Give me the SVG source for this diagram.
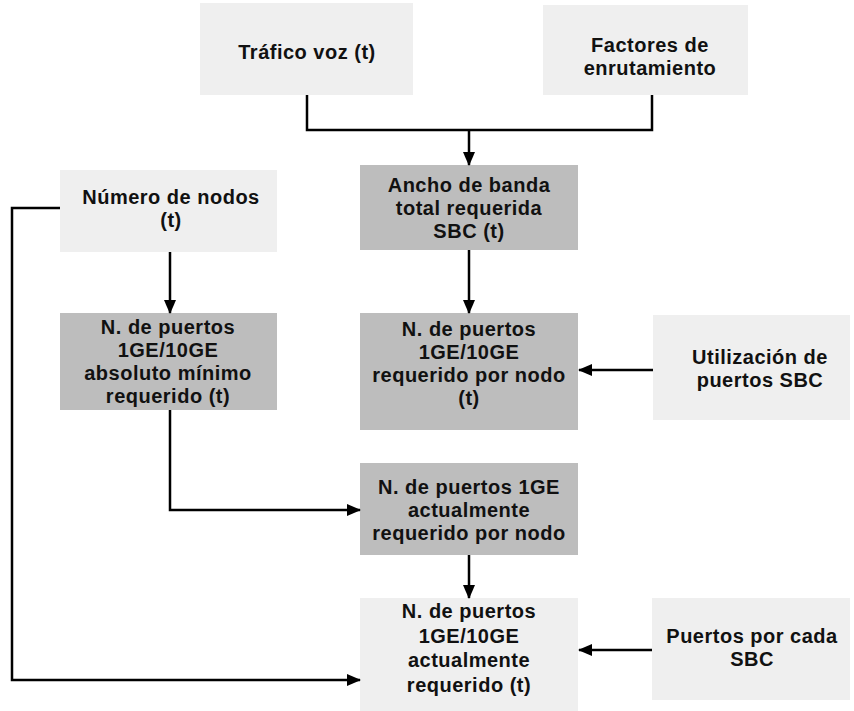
<svg xmlns="http://www.w3.org/2000/svg" width="854" height="711" viewBox="0 0 854 711">
<defs>
<style>
.t{font-family:"Liberation Sans",Arial,sans-serif;font-weight:bold;font-size:20px;letter-spacing:0.5px;fill:#111;text-anchor:middle}
.light{fill:#efefef}
.dark{fill:#bdbdbd}
.c{fill:none;stroke:#000;stroke-width:2.5}
</style>
<marker id="ah" viewBox="0 0 14 12" refX="13" refY="6" markerWidth="14" markerHeight="12" markerUnits="userSpaceOnUse" orient="auto">
<path d="M0,0 L14,6 L0,12 z" fill="#000"/>
</marker>
</defs>
<rect width="854" height="711" fill="#fff"/>
<g id="trafico">
<rect class="light" x="200" y="3" width="213" height="92"/>
<text class="t" x="307" y="59">Tráfico voz (t)</text>
</g>
<g id="factores">
<rect class="light" x="543" y="5" width="205" height="90"/>
<text class="t" x="650" y="52">Factores de</text>
<text class="t" x="650" y="75">enrutamiento</text>
</g>
<g id="ancho">
<rect class="dark" x="360" y="165" width="218" height="85"/>
<text class="t" x="469" y="192">Ancho de banda</text>
<text class="t" x="469" y="215">total requerida</text>
<text class="t" x="469" y="238">SBC (t)</text>
</g>
<g id="numero">
<rect class="light" x="60" y="170" width="217" height="82"/>
<text class="t" x="171" y="204">Número de nodos</text>
<text class="t" x="171" y="227">(t)</text>
</g>
<g id="absmin">
<rect class="dark" x="60" y="313" width="217" height="97"/>
<text class="t" x="168" y="334">N. de puertos</text>
<text class="t" x="168" y="357">1GE/10GE</text>
<text class="t" x="168" y="380">absoluto mínimo</text>
<text class="t" x="168" y="403">requerido (t)</text>
</g>
<g id="reqnodo">
<rect class="dark" x="360" y="313" width="218" height="117"/>
<text class="t" x="469" y="336">N. de puertos</text>
<text class="t" x="469" y="359">1GE/10GE</text>
<text class="t" x="469" y="382">requerido por nodo</text>
<text class="t" x="469" y="405">(t)</text>
</g>
<g id="utilizacion">
<rect class="light" x="653" y="315" width="197" height="105"/>
<text class="t" x="760" y="364">Utilización de</text>
<text class="t" x="760" y="387">puertos SBC</text>
</g>
<g id="actnodo">
<rect class="dark" x="360" y="463" width="218" height="92"/>
<text class="t" x="469" y="494">N. de puertos 1GE</text>
<text class="t" x="469" y="517">actualmente</text>
<text class="t" x="469" y="540">requerido por nodo</text>
</g>
<g id="final">
<rect class="light" x="360" y="598" width="218" height="113"/>
<text class="t" x="469" y="618">N. de puertos</text>
<text class="t" x="469" y="643">1GE/10GE</text>
<text class="t" x="469" y="667">actualmente</text>
<text class="t" x="469" y="692">requerido (t)</text>
</g>
<g id="puertos">
<rect class="light" x="652" y="598" width="198" height="102"/>
<text class="t" x="752" y="643">Puertos por cada</text>
<text class="t" x="752" y="666">SBC</text>
</g>
<g id="connectors">
<path class="c" d="M307 95 V130 H652 V95"/>
<path class="c" d="M469 130 V165" marker-end="url(#ah)"/>
<path class="c" d="M469 250 V313" marker-end="url(#ah)"/>
<path class="c" d="M170 252 V313" marker-end="url(#ah)"/>
<path class="c" d="M653 370 H579" marker-end="url(#ah)"/>
<path class="c" d="M170 410 V510 H360" marker-end="url(#ah)"/>
<path class="c" d="M469 555 V598" marker-end="url(#ah)"/>
<path class="c" d="M60 208 H12 V680 H360" marker-end="url(#ah)"/>
<path class="c" d="M652 650 H579" marker-end="url(#ah)"/>
</g>
</svg>
